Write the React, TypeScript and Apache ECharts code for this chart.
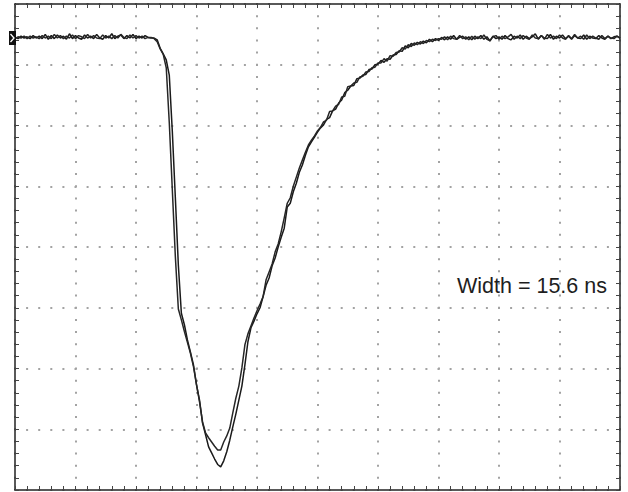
import React, { useEffect, useRef } from "react";
import * as echarts from "echarts";

const T_STEP_NS = 0.5;

// Axis ranges: 10 horizontal divisions of 10 ns, 8 vertical divisions
const X_MIN = 0;
const X_MAX = 100;
const X_DIV = 10;
const Y_MIN = 0;
const Y_MAX = 8;
const Y_DIV = 1;

const ANNOTATION = "Width = 15.6 ns";

// Trace A (deeper pulse), values in divisions, t = 0 .. 21.5 ns
const traceALeft = [
  7.45, 7.43, 7.47, 7.44, 7.46, 7.43, 7.48, 7.44, 7.47, 7.43,
  7.5, 7.42, 7.48, 7.43, 7.49, 7.44, 7.47, 7.42, 7.51, 7.43,
  7.48, 7.44, 7.42, 7.49, 7.44, 7.47, 7.43, 7.5, 7.44, 7.42,
  7.48, 7.44, 7.51, 7.43, 7.47, 7.49, 7.43, 7.48, 7.44, 7.5,
  7.43, 7.47, 7.44, 7.48,
];
// t = 22 .. 70 ns
const traceAPulse = [
  7.45, 7.44, 7.44, 7.41, 7.27, 7.18, 7.08, 6.83, 5.91, 4.82,
  3.7, 2.91, 2.72, 2.47, 2.27, 2.06, 1.73, 1.48, 1.1, 0.91,
  0.71, 0.61, 0.51, 0.42, 0.38, 0.48, 0.63, 0.82, 1.04, 1.25,
  1.48, 1.71, 2.06, 2.44, 2.67, 2.78, 2.9, 3.0, 3.18, 3.37,
  3.49, 3.69, 3.82, 4.0, 4.16, 4.31, 4.66, 4.72, 4.91, 5.05,
  5.23, 5.35, 5.51, 5.65, 5.73, 5.81, 5.89, 5.96, 6.01, 6.1,
  6.13, 6.24, 6.27, 6.37, 6.42, 6.54, 6.58, 6.65, 6.66, 6.77,
  6.78, 6.83, 6.84, 6.92, 6.93, 7.0, 7.01, 7.07, 7.04, 7.1,
  7.09, 7.16, 7.17, 7.23, 7.22, 7.31, 7.28, 7.35, 7.32, 7.37,
  7.34, 7.39, 7.36, 7.42, 7.38, 7.43, 7.4,
];
// t = 70.5 .. 100 ns
const traceARight = [
  7.45, 7.41, 7.46, 7.42, 7.48, 7.42, 7.45, 7.47, 7.42, 7.46,
  7.41, 7.47, 7.43, 7.48, 7.42, 7.46, 7.39, 7.47, 7.43, 7.46,
  7.42, 7.48, 7.43, 7.41, 7.47, 7.44, 7.49, 7.42, 7.47, 7.43,
  7.46, 7.51, 7.42, 7.48, 7.44, 7.43, 7.5, 7.42, 7.47, 7.44,
  7.49, 7.43, 7.47, 7.42, 7.48, 7.44, 7.43, 7.49, 7.42, 7.47,
  7.44, 7.43, 7.48, 7.44, 7.42, 7.47, 7.43, 7.46, 7.47, 7.44,
];

// Trace B (shallower pulse)
const traceBLeft = [
  7.43, 7.46, 7.44, 7.47, 7.43, 7.47, 7.44, 7.46, 7.43, 7.48,
  7.44, 7.47, 7.43, 7.5, 7.44, 7.48, 7.43, 7.47, 7.44, 7.49,
  7.43, 7.48, 7.46, 7.43, 7.5, 7.44, 7.48, 7.44, 7.43, 7.49,
  7.44, 7.47, 7.43, 7.48, 7.44, 7.5, 7.45, 7.43, 7.49, 7.44,
  7.48, 7.44, 7.47, 7.43,
];
const traceBPulse = [
  7.45, 7.45, 7.43, 7.38, 7.26, 7.17, 6.95, 6.05, 4.95, 3.85,
  2.98, 2.8, 2.61, 2.43, 2.25, 2.03, 1.74, 1.45, 1.12, 0.94,
  0.86, 0.79, 0.72, 0.66, 0.66, 0.79, 0.89, 1.02, 1.27, 1.51,
  1.71, 2.01, 2.39, 2.57, 2.7, 2.83, 2.95, 3.06, 3.18, 3.46,
  3.59, 3.72, 3.92, 4.05, 4.25, 4.48, 4.72, 4.81, 5.0, 5.15,
  5.3, 5.43, 5.56, 5.68, 5.76, 5.83, 5.91, 5.97, 6.06, 6.09,
  6.23, 6.24, 6.32, 6.35, 6.47, 6.48, 6.64, 6.65, 6.7, 6.71,
  6.8, 6.81, 6.88, 6.89, 6.95, 6.96, 7.03, 7.03, 7.1, 7.06,
  7.15, 7.14, 7.2, 7.21, 7.28, 7.26, 7.33, 7.3, 7.36, 7.33,
  7.38, 7.35, 7.4, 7.38, 7.42, 7.4, 7.43,
];
const traceBRight = [
  7.42, 7.46, 7.41, 7.47, 7.43, 7.42, 7.48, 7.43, 7.46, 7.41,
  7.47, 7.42, 7.46, 7.43, 7.49, 7.42, 7.4, 7.46, 7.48, 7.42,
  7.47, 7.43, 7.46, 7.5, 7.42, 7.47, 7.43, 7.48, 7.44, 7.42,
  7.49, 7.44, 7.43, 7.48, 7.42, 7.5, 7.44, 7.47, 7.43, 7.49,
  7.44, 7.42, 7.48, 7.43, 7.5, 7.44, 7.47, 7.42, 7.49, 7.43,
  7.47, 7.44, 7.42, 7.48, 7.43, 7.47, 7.44, 7.43, 7.47, 7.44,
];

const toPairs = (vals: number[]) => vals.map((v, i) => [i * T_STEP_NS, v]);

export default function App() {
  const ref = useRef<HTMLDivElement>(null);

  useEffect(() => {
    document.body.style.margin = "0";
    if (!ref.current) return;
    const chart = echarts.init(ref.current, undefined, { renderer: "svg" });

    const traceA = toPairs([...traceALeft, ...traceAPulse, ...traceARight]);
    const traceB = toPairs([...traceBLeft, ...traceBPulse, ...traceBRight]);

    const borderColor = "#222";
    const dotColor = "#a3a3a3";

    const baseAxis = {
      type: "value" as const,
      axisLabel: { show: false },
      axisLine: { show: true, onZero: false, lineStyle: { color: borderColor, width: 1.5 } },
      axisTick: { show: true, inside: true, length: 4, lineStyle: { color: "#444", width: 1 } },
      minorTick: { show: true, splitNumber: 5, length: 4, lineStyle: { color: "#444", width: 1 } },
    };

    chart.setOption({
      animation: false,
      backgroundColor: "#ffffff",
      grid: { left: 15, top: 4, width: 605, height: 486, containLabel: false },
      xAxis: [
        {
          ...baseAxis,
          min: X_MIN,
          max: X_MAX,
          interval: X_DIV,
          position: "bottom",
          splitLine: {
            show: true,
            lineStyle: { color: dotColor, width: 2, type: [2, 10.15], dashOffset: 1 },
          },
        },
        {
          ...baseAxis,
          min: X_MIN,
          max: X_MAX,
          interval: X_DIV,
          position: "top",
          splitLine: { show: false },
        },
      ],
      yAxis: [
        {
          ...baseAxis,
          min: Y_MIN,
          max: Y_MAX,
          interval: Y_DIV,
          position: "left",
          splitLine: {
            show: true,
            lineStyle: { color: dotColor, width: 2, type: [2, 10.1], dashOffset: 1 },
          },
        },
        {
          ...baseAxis,
          min: Y_MIN,
          max: Y_MAX,
          interval: Y_DIV,
          position: "right",
          splitLine: { show: false },
        },
      ],
      series: [
        {
          type: "line",
          data: traceA,
          xAxisIndex: 0,
          yAxisIndex: 0,
          showSymbol: false,
          symbol: "none",
          lineStyle: { color: "#1a1a1a", width: 1.5 },
          silent: true,
        },
        {
          type: "line",
          data: traceB,
          xAxisIndex: 0,
          yAxisIndex: 0,
          showSymbol: false,
          symbol: "none",
          lineStyle: { color: "#262626", width: 1.5 },
          silent: true,
        },
      ],
      graphic: [
        {
          type: "rect",
          shape: { x: 9, y: 31, width: 7, height: 14 },
          style: { fill: "#111" },
          z: 100,
        },
        {
          type: "polyline",
          shape: { points: [[10.5, 34], [14, 38], [10.5, 42]] },
          style: { stroke: "#fff", lineWidth: 1.3, fill: null },
          z: 101,
        },
        {
          type: "text",
          x: 457,
          y: 286,
          style: {
            text: ANNOTATION,
            font: "21.5px 'Liberation Sans', Arial, sans-serif",
            fill: "#1e1e1e",
            verticalAlign: "middle",
            align: "left",
          },
          z: 100,
        },
      ],
    });

    return () => chart.dispose();
  }, []);

  return (
    <div
      ref={ref}
      style={{ position: "fixed", left: 0, top: 0, width: 628, height: 492 }}
    />
  );
}
